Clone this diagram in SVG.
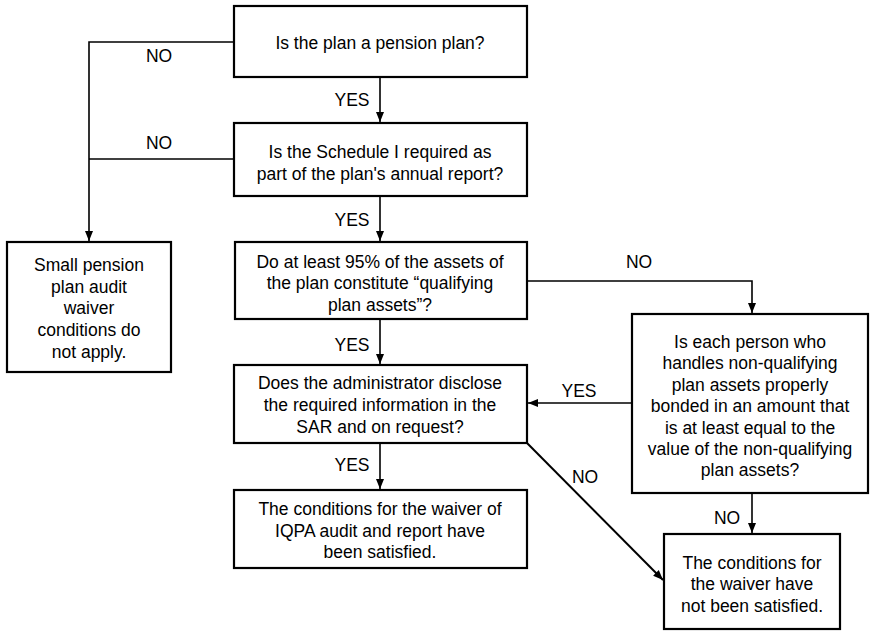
<svg xmlns="http://www.w3.org/2000/svg" width="871" height="631" viewBox="0 0 871 631">
<style>
.box{fill:#fff;stroke:#000;stroke-width:2.2}
.t{font-family:"Liberation Sans",Arial,sans-serif;font-size:17.5px;fill:#000;text-anchor:middle}
.c{fill:none;stroke:#000;stroke-width:1.6}
</style>
<defs>
<marker id="ah" markerUnits="userSpaceOnUse" markerWidth="10" markerHeight="10" viewBox="0 0 10 10" refX="10" refY="5" orient="auto">
<path d="M0,1 L10,5 L0,9 Z" fill="#000"/>
</marker>
</defs>
<rect width="871" height="631" fill="#fff"/>
<g id="connectors">
<polyline class="c" points="234,42 89,42 89,241" marker-end="url(#ah)"/>
<line class="c" x1="234" y1="159" x2="89" y2="159"/>
<line class="c" x1="380" y1="77" x2="380" y2="122" marker-end="url(#ah)"/>
<line class="c" x1="380" y1="196" x2="380" y2="241" marker-end="url(#ah)"/>
<line class="c" x1="380" y1="319" x2="380" y2="364" marker-end="url(#ah)"/>
<line class="c" x1="380" y1="443" x2="380" y2="489" marker-end="url(#ah)"/>
<polyline class="c" points="527,281 752,281 752,313" marker-end="url(#ah)"/>
<line class="c" x1="632" y1="403" x2="528" y2="403" marker-end="url(#ah)"/>
<line class="c" x1="752" y1="493" x2="752" y2="533" marker-end="url(#ah)"/>
<line class="c" style="stroke-width:2" x1="527" y1="443" x2="663" y2="580" marker-end="url(#ah)"/>
<text class="t" x="159" y="62">NO</text>
<text class="t" x="159" y="149">NO</text>
<text class="t" x="352" y="106">YES</text>
<text class="t" x="352" y="226">YES</text>
<text class="t" x="352" y="351">YES</text>
<text class="t" x="352" y="471">YES</text>
<text class="t" x="639" y="268">NO</text>
<text class="t" x="579" y="397">YES</text>
<text class="t" x="585" y="483">NO</text>
<text class="t" x="727" y="524">NO</text>
</g>
<g id="q1">
<rect class="box" x="234" y="6" width="293" height="71"/>
<text class="t" x="380" y="49">Is the plan a pension plan?</text>
</g>
<g id="q2">
<rect class="box" x="234" y="123" width="293" height="73"/>
<text class="t" x="380" y="158">Is the Schedule I required as</text>
<text class="t" x="380" y="180">part of the plan's annual report?</text>
</g>
<g id="q3">
<rect class="box" x="235" y="242" width="292" height="77"/>
<text class="t" x="380" y="268">Do at least 95% of the assets of</text>
<text class="t" x="380" y="289">the plan constitute “qualifying</text>
<text class="t" x="380" y="311">plan assets”?</text>
</g>
<g id="q4">
<rect class="box" x="234" y="365" width="293" height="78"/>
<text class="t" x="380" y="389">Does the administrator disclose</text>
<text class="t" x="380" y="411">the required information in the</text>
<text class="t" x="380" y="433">SAR and on request?</text>
</g>
<g id="r1">
<rect class="box" x="234" y="490" width="293" height="78"/>
<text class="t" x="380" y="515">The conditions for the waiver of</text>
<text class="t" x="380" y="537">IQPA audit and report have</text>
<text class="t" x="380" y="558">been satisfied.</text>
</g>
<g id="r0">
<rect class="box" x="7" y="242" width="164" height="130"/>
<text class="t" x="89" y="271">Small pension</text>
<text class="t" x="89" y="293">plan audit</text>
<text class="t" x="89" y="314">waiver</text>
<text class="t" x="89" y="336">conditions do</text>
<text class="t" x="89" y="358">not apply.</text>
</g>
<g id="q5">
<rect class="box" x="632" y="314" width="236" height="179"/>
<text class="t" x="750" y="348">Is each person who</text>
<text class="t" x="750" y="369">handles non-qualifying</text>
<text class="t" x="750" y="391">plan assets properly</text>
<text class="t" x="750" y="412">bonded in an amount that</text>
<text class="t" x="750" y="434">is at least equal to the</text>
<text class="t" x="750" y="455">value of the non-qualifying</text>
<text class="t" x="750" y="476">plan assets?</text>
</g>
<g id="r2">
<rect class="box" x="664" y="534" width="176" height="95"/>
<text class="t" x="752" y="569">The conditions for</text>
<text class="t" x="752" y="590">the waiver have</text>
<text class="t" x="752" y="612">not been satisfied.</text>
</g>
</svg>
